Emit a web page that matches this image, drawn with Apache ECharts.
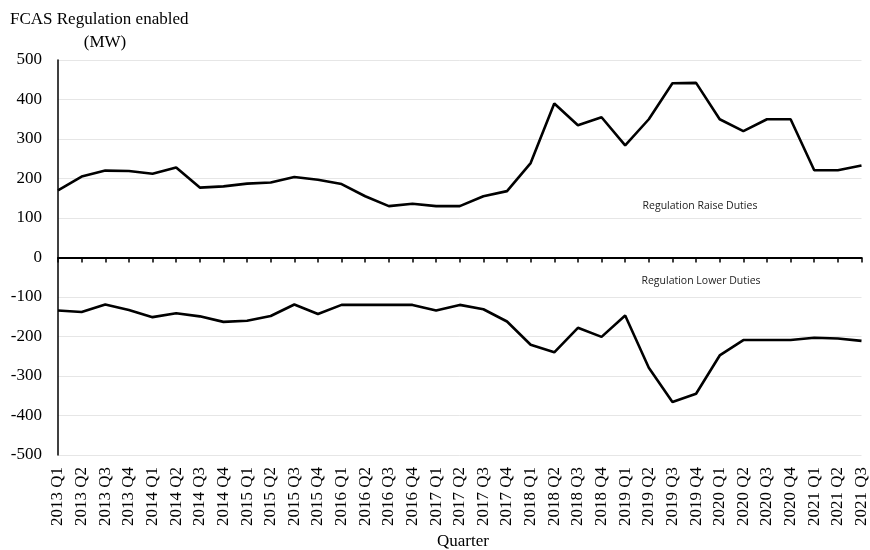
<!DOCTYPE html>
<html>
<head>
<meta charset="utf-8">
<script src="https://cdn.jsdelivr.net/npm/echarts@6/dist/echarts.min.js"></script>
<style>
  html, body { margin: 0; padding: 0; background: #fff; }
  #chart { width: 870px; height: 550px; }
</style>
</head>
<body>
<div id="chart"></div>
<script>
// quarters 2013 Q1 .. 2021 Q3
const quarters = [
  "2013 Q1", "2013 Q2", "2013 Q3", "2013 Q4",
  "2014 Q1", "2014 Q2", "2014 Q3", "2014 Q4",
  "2015 Q1", "2015 Q2", "2015 Q3", "2015 Q4",
  "2016 Q1", "2016 Q2", "2016 Q3", "2016 Q4",
  "2017 Q1", "2017 Q2", "2017 Q3", "2017 Q4",
  "2018 Q1", "2018 Q2", "2018 Q3", "2018 Q4",
  "2019 Q1", "2019 Q2", "2019 Q3", "2019 Q4",
  "2020 Q1", "2020 Q2", "2020 Q3", "2020 Q4",
  "2021 Q1", "2021 Q2", "2021 Q3"
];

// MW
const raiseDuties = [
  170, 205, 220, 219, 212, 228, 177, 180, 187, 190, 204, 197,
  186, 155, 130, 136, 130, 130, 155, 168, 239, 390, 335, 355,
  284, 350, 441, 442, 350, 320, 350, 350, 221, 221, 233
];
const lowerDuties = [
  -134, -138, -119, -133, -151, -141, -149, -163, -160, -148, -119, -143,
  -120, -120, -120, -120, -134, -120, -131, -162, -221, -240, -178, -201,
  -147, -279, -366, -345, -248, -209, -209, -209, -203, -205, -211
];

const yMin = -500;
const yMax = 500;
const yStep = 100;

const serif = "'Liberation Serif', 'DejaVu Serif', serif";

const chart = echarts.init(document.getElementById('chart'));

const option = {
  animation: false,
  backgroundColor: '#fff',
  grid: { left: 58, right: 1, top: 60, bottom: 95 },
  graphic: [
    {
      type: 'text', left: 10, top: 11,
      style: { text: 'FCAS Regulation enabled', font: '17px ' + serif, fill: '#000' }
    },
    {
      type: 'text', x: 105, y: 43,
      style: { text: '(MW)', font: '17px ' + serif, fill: '#000', align: 'center', verticalAlign: 'middle' }
    },
    {
      type: 'text', x: 700, y: 206,
      style: { text: 'Regulation Raise Duties', font: '10.5px "Open Sans", sans-serif', fill: '#222', align: 'center', verticalAlign: 'middle' }
    },
    {
      type: 'text', x: 701, y: 281,
      style: { text: 'Regulation Lower Duties', font: '10.5px "Open Sans", sans-serif', fill: '#222', align: 'center', verticalAlign: 'middle' }
    },
    {
      type: 'text', x: 437, y: 542,
      style: { text: 'Quarter', font: '17px ' + serif, fill: '#000', align: 'left', verticalAlign: 'middle' }
    }
  ],
  xAxis: [
    {
      // labels along the bottom
      type: 'category',
      data: quarters,
      boundaryGap: false,
      position: 'bottom',
      axisLine: { show: false, onZero: false },
      axisTick: { show: false },
      splitLine: { show: false },
      axisLabel: {
        interval: 0,
        rotate: 90,
        margin: 12,
        color: '#000',
        fontFamily: serif,
        fontSize: 17
      }
    },
    {
      // line and ticks at zero
      type: 'category',
      data: quarters,
      boundaryGap: false,
      position: 'top',
      axisLine: { show: true, onZero: true, lineStyle: { color: '#000', width: 2 } },
      axisTick: { show: true, inside: true, length: 5, interval: 0, lineStyle: { color: '#000', width: 1.5 } },
      axisLabel: { show: false },
      splitLine: { show: false }
    }
  ],
  yAxis: {
    type: 'value',
    min: yMin,
    max: yMax,
    interval: yStep,
    axisLine: { show: true, onZero: false, lineStyle: { color: '#000', width: 1.5 } },
    axisTick: { show: false },
    splitLine: { show: true, lineStyle: { color: '#e6e6e6', width: 1 } },
    axisLabel: {
      margin: 16,
      color: '#000',
      fontFamily: serif,
      fontSize: 17
    }
  },
  series: [
    {
      name: 'Regulation Raise Duties',
      type: 'line',
      xAxisIndex: 0,
      data: raiseDuties,
      showSymbol: false,
      lineStyle: { color: '#000', width: 2.6 },
      itemStyle: { color: '#000' }
    },
    {
      name: 'Regulation Lower Duties',
      type: 'line',
      xAxisIndex: 0,
      data: lowerDuties,
      showSymbol: false,
      lineStyle: { color: '#000', width: 2.6 },
      itemStyle: { color: '#000' }
    }
  ]
};

chart.setOption(option);
</script>
</body>
</html>
